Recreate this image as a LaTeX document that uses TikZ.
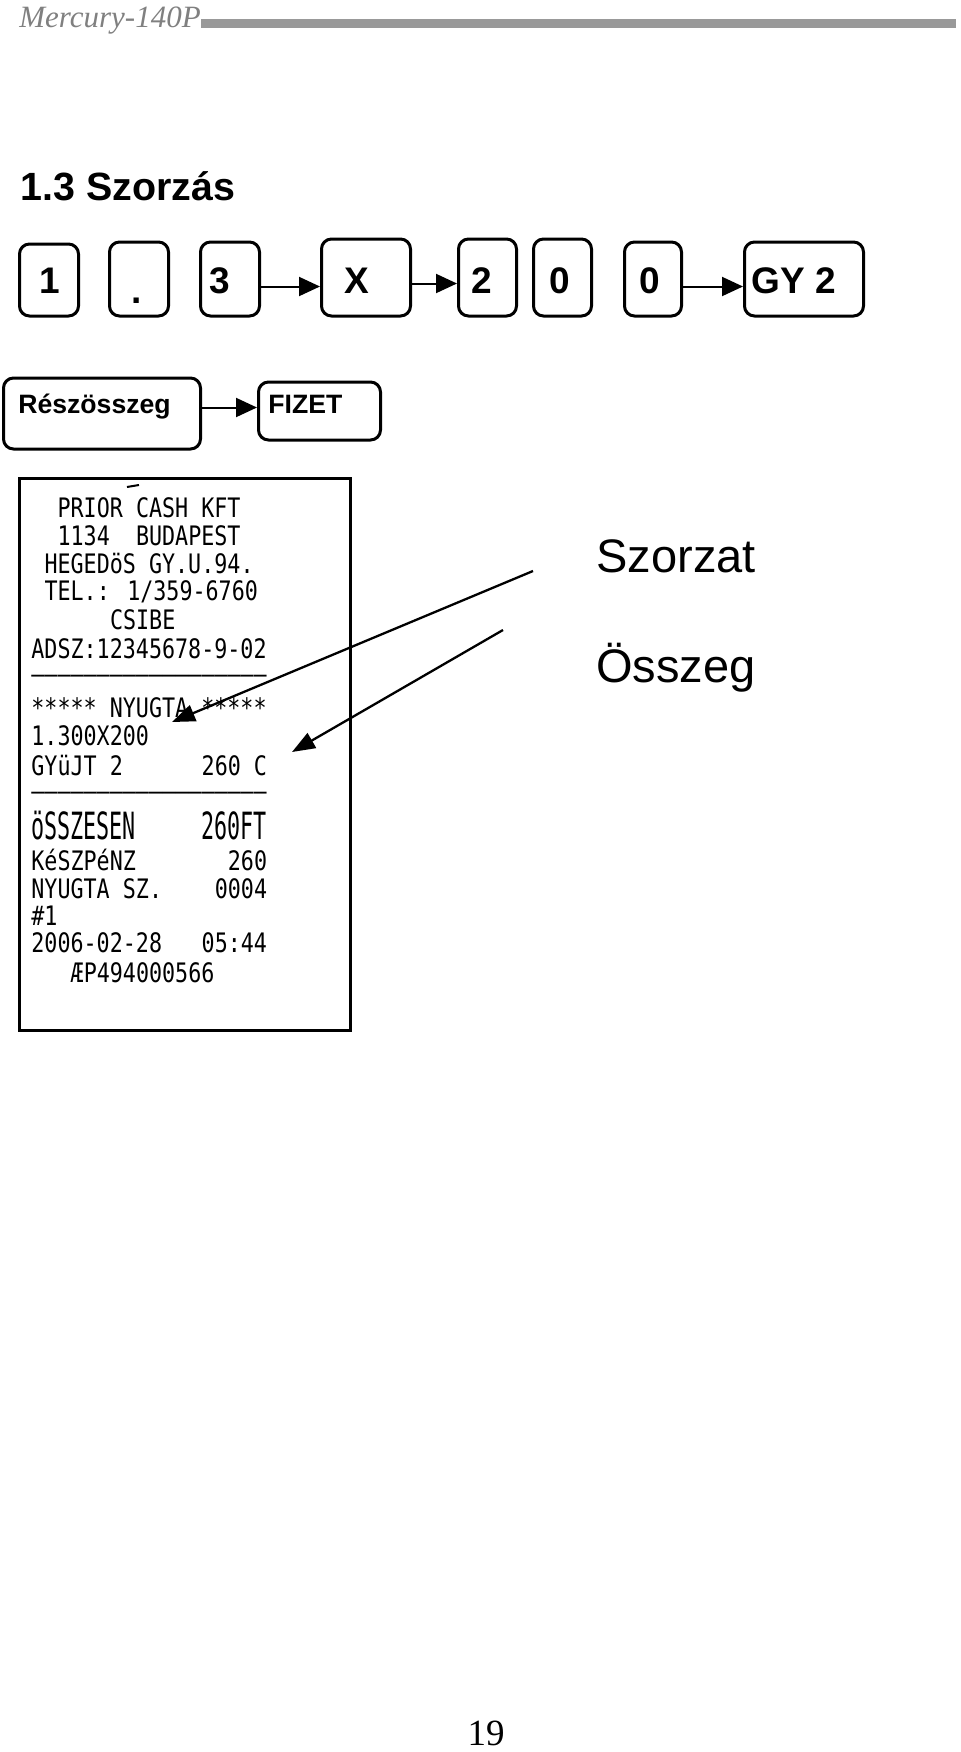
\documentclass[tikz,border=0pt]{standalone}
\usepackage{fontspec}
\setmainfont{Liberation Sans}
\newfontfamily\pageserif{Liberation Serif}
\newfontfamily\slipfont[FakeStretch=0.81]{DejaVu Sans Mono}
\usetikzlibrary{arrows.meta}

\begin{document}
\begin{tikzpicture}[x=0.5pt,y=-0.5pt,
  key/.style={draw,line width=1.5pt,rounded corners=5pt,inner sep=0pt,anchor=south},
  keytxt/.style={inner sep=0pt,anchor=base,font=\bfseries\fontsize{18.5}{22}\selectfont},
  btntxt/.style={inner sep=0pt,anchor=base west,font=\bfseries\fontsize{13.3}{16}\selectfont},
  flow/.style={line width=1pt,-{Triangle[length=10.5pt,width=9.5pt]}},
  slip/.style={inner sep=0pt,anchor=base west,font=\slipfont\fontsize{13.4}{16}\selectfont},
  pointer/.style={line width=1.15pt,-{Triangle[length=11.5pt,width=8.5pt]}},
  note/.style={inner sep=0pt,anchor=base west,font=\fontsize{23.5}{28}\selectfont}]
\useasboundingbox (0,0) rectangle (960,1752);

% page head
\fill[black!40] (201,19) rectangle (956,28);
\node[inner sep=0pt,anchor=base west,text=black!50,font=\pageserif\itshape\fontsize{15.5}{18}\selectfont] (head) at (19,27) {Mercury-140P};
\node[inner sep=0pt,anchor=base west,font=\bfseries\fontsize{19.7}{24}\selectfont] (title) at (20,200) {1.3 Szorzás};

% keys
\node[key,minimum width=29.5pt,minimum height=36pt] (k1) at (49,317.5) {};
\node[key,minimum width=29.5pt,minimum height=37pt] (kdot) at (139,317.5) {};
\node[key,minimum width=29.5pt,minimum height=37pt] (k3) at (230,317.5) {};
\node[key,minimum width=44.5pt,minimum height=38.5pt] (kx) at (366,317.5) {};
\node[key,minimum width=29pt,minimum height=38.5pt] (k2) at (487.5,317.5) {};
\node[key,minimum width=29pt,minimum height=38.5pt] (k0a) at (562.5,317.5) {};
\node[key,minimum width=28.5pt,minimum height=37pt] (k0b) at (653,317.5) {};
\node[key,minimum width=59.5pt,minimum height=37pt] (kgy) at (804,317.5) {};
\node[keytxt] (t1) at (50,293) {1};
\node[keytxt] (tdot) at (137,303) {.};
\node[keytxt] (t3) at (220,293) {3};
\node[keytxt] (tx) at (357,293) {X};
\node[keytxt] (t2) at (482,293) {2};
\node[keytxt] (t0a) at (560,293) {0};
\node[keytxt] (t0b) at (650,293) {0};
\node[keytxt,anchor=base west] (tgy) at (751,293) {GY 2};
\draw[flow] ([yshift=-3.75pt]k3.east) -- ([yshift=-3.75pt]k3.east -| kx.west);
\draw[flow] ([yshift=-3pt]kx.east) -- ([yshift=-3pt]kx.east -| k2.west);
\draw[flow] ([yshift=-3.75pt]k0b.east) -- ([yshift=-3.75pt]k0b.east -| kgy.west);

\node[key,minimum width=98.5pt,minimum height=35.5pt] (kres) at (102,450.5) {};
\node[key,minimum width=61pt,minimum height=29pt] (kfiz) at (319.5,441.5) {};
\node[btntxt] (tres) at (18,413) {Részösszeg};
\node[btntxt] (tfiz) at (268,413) {FIZET};
\draw[flow] ([yshift=3pt]kres.east) -- ([yshift=3pt]kres.east -| kfiz.west);

% receipt
\draw[line width=1.5pt] (19.5,478.5) rectangle (350.5,1030.5);
\draw[line width=1pt] (127,487) -- (139,485);
\node[slip] (r1) at ({31+2*13.1},517) {PRIOR CASH KFT};
\node[slip] (r2) at ({31+2*13.1},545) {1134~~BUDAPEST};
\node[slip] (r3) at ({31+1*13.1},573) {HEGEDöS GY.U.94.};
\node[slip] (r4) at ({31+1*13.1},600) {TEL.: 1/359-6760};
\node[slip] (r5) at ({31+6*13.1},629) {CSIBE};
\node[slip] (r6) at (31,658) {ADSZ:12345678-9-02};
\node[slip] (r7) at (31,683) {––––––––––––––––––};
\node[slip] (r8) at (31,717) {***** NYUGTA *****};
\node[slip] (r9) at (31,745) {1.300X200};
\node[slip] (r10) at (31,775) {GYüJT 2};
\node[slip] (r10b) at ({31+13*13.1},775) {260 C};
\node[slip] (r11) at (31,800) {––––––––––––––––––};
\node[slip] (r12) at (31,839) {\scalebox{1}[1.4]{öSSZESEN}};
\node[slip] (r12b) at ({31+13*13.1},839) {\scalebox{1}[1.4]{260FT}};
\node[slip] (r13) at (31,870) {KéSZPéNZ};
\node[slip] (r13b) at ({31+15*13.1},870) {260};
\node[slip] (r14) at (31,898) {NYUGTA SZ.};
\node[slip] (r14b) at ({31+14*13.1},898) {0004};
\node[slip] (r15) at (31,925) {\#1};
\node[slip] (r16) at (31,952) {2006-02-28};
\node[slip] (r16b) at ({31+13*13.1},952) {05:44};
\node[slip] (r17) at ({31+3*13.1},982) {ÆP494000566};

% notes
\node[note] (szorzat) at (596,572) {Szorzat};
\node[note] (osszeg) at (596,682) {Összeg};
\coordinate (szfrom) at (533,571);
\coordinate (szto) at (172,722);
\coordinate (osfrom) at (503,630);
\coordinate (osto) at (292,752);
\draw[pointer] (szfrom) -- (szto);
\draw[pointer] (osfrom) -- (osto);

\node[inner sep=0pt,anchor=base,font=\pageserif\fontsize{18.5}{22}\selectfont] (pagenum) at (486,1745) {19};
\end{tikzpicture}
\end{document}
